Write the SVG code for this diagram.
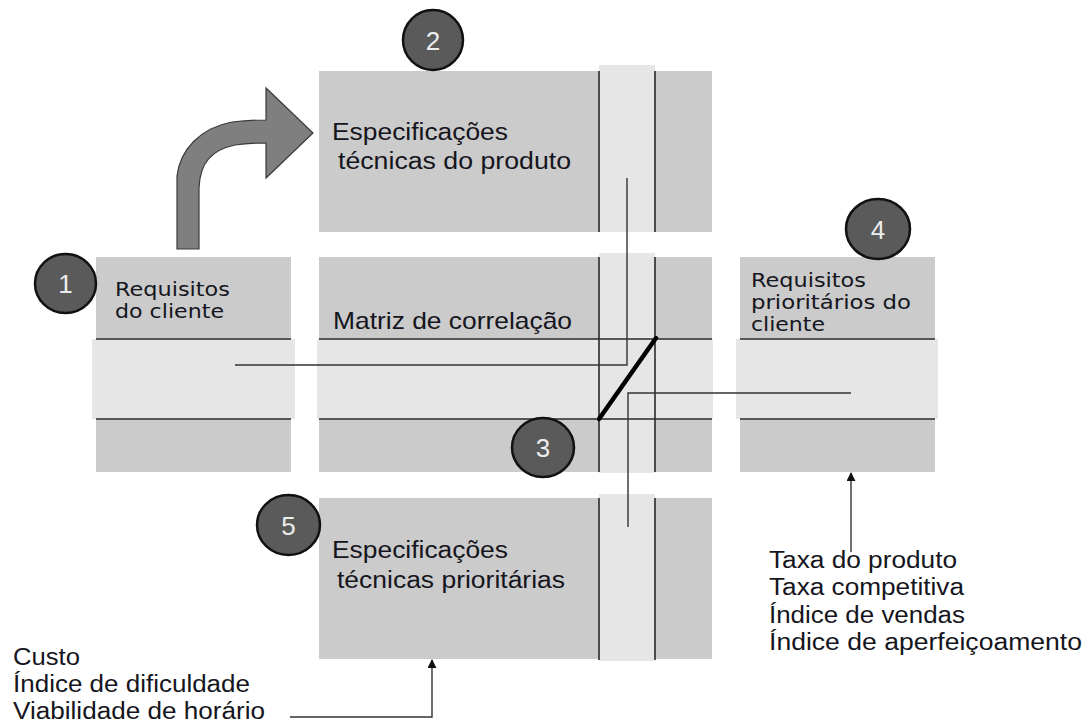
<svg xmlns="http://www.w3.org/2000/svg" width="1090" height="724" viewBox="0 0 1090 724">
<defs>
<style>
.box{fill:#cbcbcb}
.band{fill:#e6e6e6}
.ln{stroke:#2a2a2a;stroke-width:1.6;fill:none}
.conn{stroke:#333;stroke-width:1.4;fill:none}
.t{font-family:"Liberation Sans",Arial,sans-serif;fill:#151520}
.tv{font-family:"DejaVu Sans",Verdana,sans-serif;fill:#151520}
.badge ellipse{fill:#5a5a5a;stroke:#111;stroke-width:2.5}
.badge text{font-family:"Liberation Sans",Arial,sans-serif;font-size:26px;fill:#ececec;text-anchor:middle}
</style>
<marker id="ah" viewBox="0 0 10 10" refX="9" refY="5" markerWidth="9" markerHeight="9" markerUnits="userSpaceOnUse" orient="auto">
<path d="M0,0 L10,5 L0,10 z" fill="#111"/>
</marker>
</defs>
<rect width="1090" height="724" fill="#fff"/>

<g id="node-2">
<rect class="box" x="319" y="71" width="393" height="161"/>
<rect class="band" x="599" y="65" width="56" height="167"/>
<line class="ln" x1="599" y1="71" x2="599" y2="232"/>
<line class="ln" x1="655" y1="71" x2="655" y2="232"/>
<text class="t" x="332" y="140" font-size="23.5" textLength="176" lengthAdjust="spacingAndGlyphs">Especificações</text>
<text class="t" x="338" y="169" font-size="23.5" textLength="233" lengthAdjust="spacingAndGlyphs">técnicas do produto</text>
</g>

<g id="node-1">
<rect class="box" x="96" y="257" width="195" height="215"/>
<rect class="band" x="92" y="339" width="203" height="80"/>
<line class="ln" x1="96" y1="339" x2="291" y2="339"/>
<line class="ln" x1="96" y1="419" x2="291" y2="419"/>
<text class="tv" x="115" y="296" font-size="20" textLength="115" lengthAdjust="spacingAndGlyphs">Requisitos</text>
<text class="tv" x="115" y="318" font-size="20" textLength="109" lengthAdjust="spacingAndGlyphs">do cliente</text>
</g>

<g id="node-matrix">
<rect class="box" x="319" y="257" width="393" height="215"/>
<rect class="band" x="317" y="339" width="396" height="80"/>
<rect class="band" x="599" y="253" width="56" height="220"/>
<line class="ln" x1="319" y1="339" x2="712" y2="339"/>
<line class="ln" x1="319" y1="419" x2="712" y2="419"/>
<line class="ln" x1="599" y1="257" x2="599" y2="472"/>
<line class="ln" x1="655" y1="257" x2="655" y2="472"/>
<line x1="599" y1="419" x2="656" y2="338" stroke="#000" stroke-width="4.5" stroke-linecap="round"/>
<text class="t" x="333" y="329" font-size="24" textLength="239" lengthAdjust="spacingAndGlyphs">Matriz de correlação</text>
</g>

<g id="node-4">
<rect class="box" x="740" y="257" width="195" height="215"/>
<rect class="band" x="736" y="339" width="202" height="80"/>
<line class="ln" x1="740" y1="339" x2="935" y2="339"/>
<line class="ln" x1="740" y1="419" x2="935" y2="419"/>
<text class="tv" x="751" y="287" font-size="20" textLength="115" lengthAdjust="spacingAndGlyphs">Requisitos</text>
<text class="tv" x="751" y="309" font-size="20" textLength="160" lengthAdjust="spacingAndGlyphs">prioritários do</text>
<text class="tv" x="751" y="331" font-size="20" textLength="74" lengthAdjust="spacingAndGlyphs">cliente</text>
</g>

<g id="node-5">
<rect class="box" x="319" y="498" width="393" height="161"/>
<rect class="band" x="599" y="494" width="56" height="167"/>
<line class="ln" x1="599" y1="498" x2="599" y2="660"/>
<line class="ln" x1="655" y1="498" x2="655" y2="660"/>
<text class="t" x="332" y="558" font-size="23.5" textLength="176" lengthAdjust="spacingAndGlyphs">Especificações</text>
<text class="t" x="337" y="588" font-size="23.5" textLength="228" lengthAdjust="spacingAndGlyphs">técnicas prioritárias</text>
</g>

<g id="connectors">
<path class="conn" d="M235,365 H627 V178"/>
<path class="conn" d="M851,393 H628 V527"/>
<path class="conn" d="M851,552 V473" marker-end="url(#ah)"/>
<path class="conn" d="M290,717 H432 V660" marker-end="url(#ah)"/>
<path id="bent-arrow" d="M177,249 V176 C180,150 200,128 232,122 Q248,120 266,120 V88 L313,133 L266,178 V143 Q248,143 235,145 C212,150 200,162 199,188 V249 Z" fill="#7f7f7f" stroke="#3a3a3a" stroke-width="1.2"/>
</g>

<g id="list-right">
<text class="t" x="769" y="568" font-size="23" textLength="188" lengthAdjust="spacingAndGlyphs">Taxa do produto</text>
<text class="t" x="769" y="595" font-size="23" textLength="195" lengthAdjust="spacingAndGlyphs">Taxa competitiva</text>
<text class="t" x="769" y="623" font-size="23" textLength="196" lengthAdjust="spacingAndGlyphs">Índice de vendas</text>
<text class="t" x="769" y="650" font-size="23" textLength="313" lengthAdjust="spacingAndGlyphs">Índice de aperfeiçoamento</text>
</g>

<g id="list-left">
<text class="t" x="13" y="665" font-size="23" textLength="67" lengthAdjust="spacingAndGlyphs">Custo</text>
<text class="t" x="13" y="692" font-size="23" textLength="237" lengthAdjust="spacingAndGlyphs">Índice de dificuldade</text>
<text class="t" x="13" y="719" font-size="23" textLength="252" lengthAdjust="spacingAndGlyphs">Viabilidade de horário</text>
</g>

<g id="badge-1" class="badge"><ellipse cx="65.5" cy="283.5" rx="30.5" ry="29.5"/><text x="65.5" y="293">1</text></g>
<g id="badge-2" class="badge"><ellipse cx="433" cy="40" rx="30" ry="30"/><text x="433" y="49.5">2</text></g>
<g id="badge-3" class="badge"><ellipse cx="543" cy="447.5" rx="31" ry="29.5"/><text x="543" y="457">3</text></g>
<g id="badge-4" class="badge"><ellipse cx="878" cy="229" rx="32" ry="30"/><text x="878" y="238.5">4</text></g>
<g id="badge-5" class="badge"><ellipse cx="288.5" cy="525" rx="31.5" ry="30"/><text x="288.5" y="534.5">5</text></g>
</svg>
